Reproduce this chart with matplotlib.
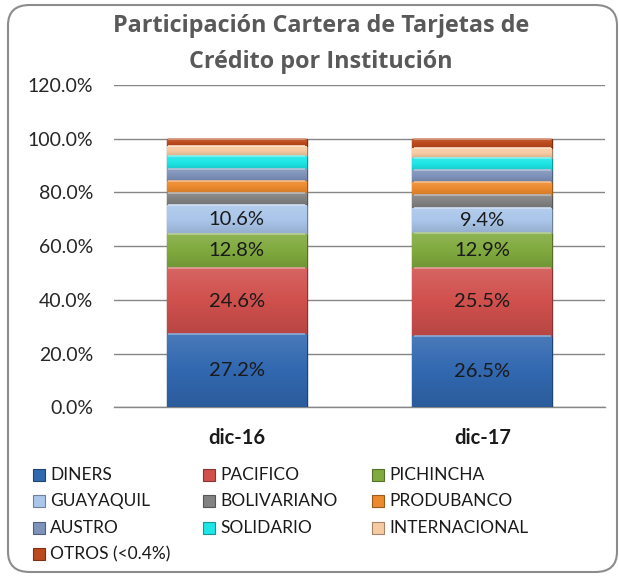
import matplotlib
matplotlib.use("Agg")
import matplotlib.pyplot as plt
from matplotlib.patches import FancyBboxPatch, Rectangle
from matplotlib.colors import LinearSegmentedColormap, to_rgb
import numpy as np

plt.rcParams['font.family'] = ['Lato', 'DejaVu Sans']

categories = ["dic-16", "dic-17"]
series_names = ["DINERS", "PACIFICO", "PICHINCHA", "GUAYAQUIL", "BOLIVARIANO",
                "PRODUBANCO", "AUSTRO", "SOLIDARIO", "INTERNACIONAL", "OTROS (<0.4%)"]
diners = [27.2, 26.5]
pacifico = [24.6, 25.5]
pichincha = [12.8, 12.9]
guayaquil = [10.6, 9.4]
bolivariano = [4.7, 4.9]
produbanco = [4.5, 4.7]
austro = [4.3, 4.3]
solidario = [4.7, 4.6]
internacional = [4.0, 3.7]
otros = [2.6, 3.5]
labeled = ["DINERS", "PACIFICO", "PICHINCHA", "GUAYAQUIL"]
yticks = [0, 20, 40, 60, 80, 100, 120]

series_values = [diners, pacifico, pichincha, guayaquil, bolivariano,
                 produbanco, austro, solidario, internacional, otros]
colors = ["#3168B0", "#D0504D", "#80AA3E", "#AAC6EA", "#828282",
          "#EC8A2E", "#7E92BA", "#1EE6E6", "#F7CBA2", "#BC4A1C"]


def shade(c, f):
    r = np.array(to_rgb(c))
    if f >= 0:
        return tuple(r + (1 - r) * f)
    return tuple(r * (1 + f))


W, H = 619, 578
fig = plt.figure(figsize=(W / 100, H / 100), dpi=100)

border = FancyBboxPatch((8 / W, 6 / H), (617 - 8) / W, (573 - 6) / H,
                        boxstyle="round,pad=0,rounding_size=0.035",
                        transform=fig.transFigure, fill=False,
                        edgecolor="#8C8C8C", linewidth=1.5)
fig.patches.append(border)

ax = fig.add_axes([114 / W, 1 - 407.3 / H, (605 - 114) / W, (407.3 - 85) / H])
x = np.arange(len(categories))
bottom = np.zeros(len(categories))
grad = np.linspace(0, 1, 64).reshape(-1, 1)
for name, vals, c in zip(series_names, series_values, colors):
    vals = np.array(vals, dtype=float)
    bars = ax.bar(x, vals, width=0.57, bottom=bottom, color=c,
                  edgecolor=shade(c, -0.35), linewidth=1.0, zorder=3)
    cmap = LinearSegmentedColormap.from_list(
        "g", [shade(c, -0.12), c, shade(c, 0.12)])
    for b in bars:
        x0, y0, w, h = b.get_x(), b.get_y(), b.get_width(), b.get_height()
        im = ax.imshow(grad, extent=[x0, x0 + w, y0, y0 + h], origin="lower",
                       aspect="auto", cmap=cmap, zorder=3.5)
        im.set_clip_path(b)
        ax.plot([x0 + w * 0.01, x0 + w * 0.99], [y0 + h, y0 + h],
                color=shade(c, 0.45), linewidth=1.2, zorder=3.6,
                solid_capstyle="butt")
    if name in labeled:
        for xi, bt, v in zip(x, bottom, vals):
            ax.text(xi, bt + v / 2, f"{v:.1f}%", ha="center", va="center",
                    fontsize=14.5, color="#1A1A1A", zorder=5)
    bottom += vals

ax.set_xlim(-0.5, len(categories) - 0.5)
ax.set_ylim(0, 120)
ax.set_yticks(yticks)
ax.set_yticklabels([f"{t:.1f}%" for t in yticks], fontsize=14, color="#262626")
ax.set_xticks(x)
ax.set_xticklabels(categories, fontsize=14.5, fontweight="bold", color="#1A1A1A")
ax.tick_params(axis="both", length=0)
ax.tick_params(axis="y", pad=15)
ax.tick_params(axis="x", pad=15)
ax.yaxis.grid(True, color="#868686", linewidth=1.0, zorder=0)
ax.set_axisbelow(True)
for s in ["left", "right", "top"]:
    ax.spines[s].set_visible(False)
ax.spines["bottom"].set_color("#868686")
ax.spines["bottom"].set_linewidth(1.0)

fig.text(321 / W, 1 - 26 / H, "Participación Cartera de Tarjetas de",
         ha="center", va="center", fontsize=16.8, fontweight="bold",
         color="#595959", family=["Open Sans", "DejaVu Sans"])
fig.text(321 / W, 1 - 62 / H, "Crédito por Institución",
         ha="center", va="center", fontsize=16.8, fontweight="bold",
         color="#595959", family=["Open Sans", "DejaVu Sans"])

col_x = [33, 203, 372]
row_y = [475, 501, 528, 554]
for i, (name, c) in enumerate(zip(series_names, colors)):
    r, col = divmod(i, 3)
    mx, my = col_x[col], row_y[r]
    fig.patches.append(Rectangle((mx / W, 1 - (my + 6) / H), 12 / W, 12 / H,
                                 transform=fig.transFigure, facecolor=c,
                                 edgecolor=shade(c, -0.35), linewidth=0.8))
    fig.text((mx + 17) / W, 1 - my / H, name, ha="left", va="center",
             fontsize=12.5, color="#1A1A1A")

fig.savefig("out.png", dpi=100)
